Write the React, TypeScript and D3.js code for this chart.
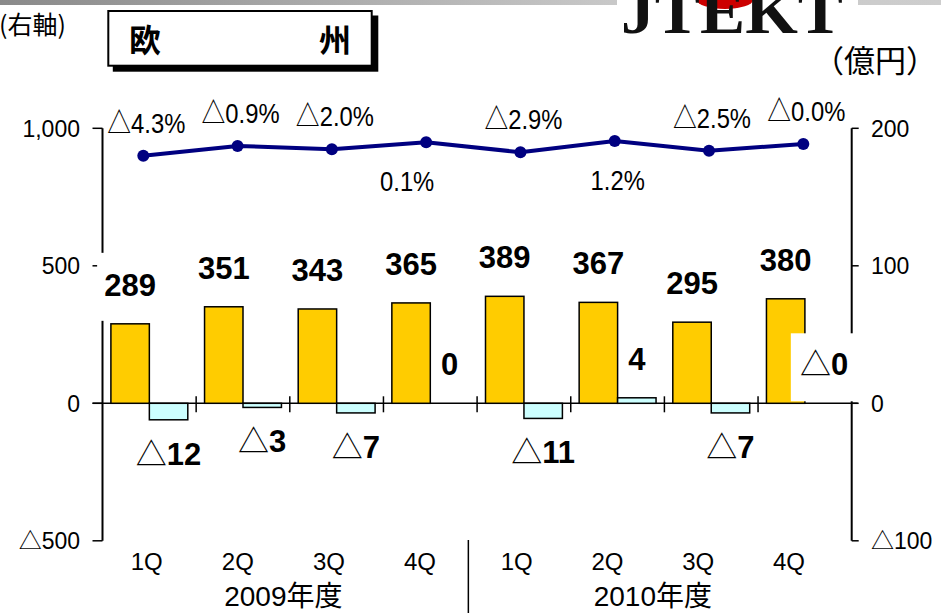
import React from "react";
import * as d3 from "d3";

// ---- data ----
const periods = ["FY2009-1Q", "FY2009-2Q", "FY2009-3Q", "FY2009-4Q", "FY2010-1Q", "FY2010-2Q", "FY2010-3Q", "FY2010-4Q"];
const quarterLabels = ["1Q", "2Q", "3Q", "4Q", "1Q", "2Q", "3Q", "4Q"];
const yearLabels = ["2009年度", "2010年度"];
const salesValues = [289, 351, 343, 365, 389, 367, 295, 380]; // left axis
const profitValues = [-12, -3, -7, 0, -11, 4, -7, 0]; // right axis
const profitLabels = ["△12", "△3", "△7", "0", "△11", "4", "△7", "△0"];
const lineValues = [900, 936, 924, 949, 913, 954, 918, 943]; // left axis
const pctLabels = ["△4.3%", "△0.9%", "△2.0%", "0.1%", "△2.9%", "1.2%", "△2.5%", "△0.0%"];
const leftTicks = [-500, 0, 500, 1000];
const rightTicks = [-100, 0, 100, 200];

// ---- layout ----
const W = 941, H = 613;
const X0 = 102.5, X1 = 851.7, YT = 128.3, YB = 540.8;
const SANS = "'Liberation Sans', Arial, 'Noto Sans CJK JP', sans-serif";
const CJK = "'Noto Sans CJK JP', 'Liberation Sans', sans-serif";
const boxedSales = new Set([0]);
const boxedProfit = new Set([7]);
const pctNudge: Record<number, number> = { 3: -22 };

const fmt = d3.format(",");
const tri = (v: number) => (v < 0 ? "△" + fmt(-v) : fmt(v));

export default function App() {
  const x = d3.scaleBand<string>().domain(periods).range([X0, X1]);
  const sub = d3.scaleBand<string>().domain(["sales", "profit"]).range([8.4, 85.3]);
  const yL = d3.scaleLinear().domain([-500, 1000]).range([YB, YT]);
  const yR = d3.scaleLinear().domain([-100, 200]).range([YB, YT]);
  const lineX = d3.scalePoint<string>().domain(periods).range([143.3, 803.3]);
  const labelX = d3.scaleLinear().domain([0, 3, 4, 7]).range([146.7, 420, 516.7, 789]);
  const bw = sub.bandwidth();
  const y0 = yL(0);

  const linePath = d3
    .line<number>()
    .x((_, i) => lineX(periods[i])!)
    .y((d) => yL(d))(lineValues)!;

  return (
    <svg width={W} height={H} style={{ position: "absolute", left: 0, top: 0, background: "#fff" }}>
      <defs>
        <linearGradient id="topband" x1="0" x2="1" y1="0" y2="0">
          <stop offset="0" stopColor="#8a8a8a" />
          <stop offset="0.65" stopColor="#c8c8c8" />
          <stop offset="1" stopColor="#cdcdcd" />
        </linearGradient>
      </defs>
      <rect x={0} y={0} width={W} height={H} fill="#fff" />
      {/* top band and logo */}
      <rect x={0} y={0} width={W} height={5} fill="url(#topband)" />
      <rect x={617} y={0} width={241} height={45} fill="#fff" />
      <ellipse cx={725} cy={0} rx={28} ry={9} fill="#cc0000" />
      <text x={621} y={33} fontFamily="'Liberation Serif', 'DejaVu Serif', serif" fontWeight={900} fontSize={64}
        textLength={222} lengthAdjust="spacingAndGlyphs" fill="#111">JTEKT</text>

      {/* title box */}
      <rect x={112.8} y={15.5} width={265.5} height={56.2} fill="#000" />
      <rect x={108.3} y={11} width={263.4} height={54.7} fill="#fff" stroke="#000" strokeWidth={2} />
      <text x={129} y={52} fontFamily={CJK} fontWeight={700} fontSize={32}>欧</text>
      <text x={319} y={52} fontFamily={CJK} fontWeight={700} fontSize={32}>州</text>
      <text x={-1} y={34} fontFamily={CJK} fontSize={25}>(右軸)</text>
      <text x={937} y={72} textAnchor="end" fontFamily={CJK} fontSize={31}>（億円）</text>

      {/* zero line */}
      <line x1={X0 - 10} x2={X1 + 6} y1={y0} y2={y0} stroke="#000" strokeWidth={1.5} />
      {/* category ticks */}
      {periods.slice(1).map((p) => (
        <line key={p} x1={x(p)!} x2={x(p)!} y1={y0 - 7} y2={y0 + 9} stroke="#000" strokeWidth={1.5} />
      ))}

      {/* bars */}
      {periods.map((p, i) => (
        <rect key={"s" + p} x={x(p)! + sub("sales")!} width={bw}
          y={yL(Math.max(0, salesValues[i]))} height={Math.abs(yL(salesValues[i]) - y0)}
          fill="#FFCC00" stroke="#000" strokeWidth={1.5} />
      ))}
      {periods.map((p, i) =>
        profitValues[i] === 0 ? null : (
          <rect key={"p" + p} x={x(p)! + sub("profit")!} width={bw}
            y={yR(Math.max(0, profitValues[i]))} height={Math.abs(yR(profitValues[i]) - yR(0))}
            fill="#CCFFFF" stroke="#000" strokeWidth={1.5} />
        )
      )}

      {/* axes */}
      <line x1={X0} x2={X0} y1={YT} y2={YB} stroke="#000" strokeWidth={2} />
      {leftTicks.map((t) => (
        <g key={"l" + t}>
          <line x1={X0 - 10} x2={X0} y1={yL(t)} y2={yL(t)} stroke="#000" strokeWidth={1.5} />
          <text x={80} y={yL(t)} dy="0.36em" textAnchor="end" fontFamily={SANS} fontSize={23}>{tri(t)}</text>
        </g>
      ))}
      <line x1={X1} x2={X1} y1={YT} y2={YB} stroke="#000" strokeWidth={2} />
      {rightTicks.map((t) => (
        <g key={"r" + t}>
          <line x1={X1} x2={X1 + 7} y1={yR(t)} y2={yR(t)} stroke="#000" strokeWidth={1.5} />
          <text x={871} y={yR(t)} dy="0.36em" fontFamily={SANS} fontSize={23}>{tri(t)}</text>
        </g>
      ))}

      {/* category labels */}
      {quarterLabels.map((q, i) => (
        <text key={"q" + i} x={labelX(i)} y={570} textAnchor="middle" fontFamily={SANS} fontSize={24}>{q}</text>
      ))}
      {yearLabels.map((yl, k) => (
        <text key={yl} x={labelX(k * 4 + 1.5)} y={606} textAnchor="middle" fontFamily={SANS} fontSize={28}>{yl}</text>
      ))}
      <line x1={labelX(3.5)} x2={labelX(3.5)} y1={540} y2={H} stroke="#000" strokeWidth={1.5} />

      {/* line series */}
      <path d={linePath} fill="none" stroke="#000080" strokeWidth={4} strokeLinejoin="round" />
      {lineValues.map((v, i) => (
        <circle key={"c" + i} cx={lineX(periods[i])!} cy={yL(v)} r={6} fill="#000080" />
      ))}
      {pctLabels.map((s, i) => {
        const neg = s.startsWith("△");
        const px = lineX(periods[i])! + 3 + (pctNudge[i] || 0);
        const py = yL(lineValues[i]) + (neg ? -23 : 49);
        return (
          <text key={"pct" + i} transform={`translate(${px},${py}) scale(0.85,1)`} textAnchor="middle"
            fontFamily={SANS} fontSize={28}>{s}</text>
        );
      })}

      {/* sales labels */}
      {salesValues.map((v, i) => {
        const cx = x(periods[i])! + sub("sales")! + bw / 2;
        const by = yL(v) - 28;
        return (
          <g key={"sl" + i}>
            {boxedSales.has(i) && <rect x={cx - 33} y={by - 43} width={66} height={68} fill="#fff" />}
            <text x={cx} y={by} textAnchor="middle" fontFamily={SANS} fontWeight={700} fontSize={31}>{fmt(v)}</text>
          </g>
        );
      })}

      {/* profit labels */}
      {profitValues.map((v, i) => {
        const cx = x(periods[i])! + sub("profit")! + bw / 2;
        const by = v < 0 ? yR(v) + 45 : yR(v) - 28;
        const lab = profitLabels[i];
        const hasTri = lab.startsWith("△");
        return (
          <g key={"pl" + i}>
            {boxedProfit.has(i) && <rect x={cx - 33.3} y={by - 42} width={66.6} height={68} fill="#fff" />}
            <text x={cx} y={by} textAnchor="middle" fontFamily={SANS} fontSize={31}>
              {hasTri && <tspan fontWeight={400}>△</tspan>}
              <tspan fontWeight={700}>{hasTri ? lab.slice(1) : lab}</tspan>
            </text>
          </g>
        );
      })}
    </svg>
  );
}
